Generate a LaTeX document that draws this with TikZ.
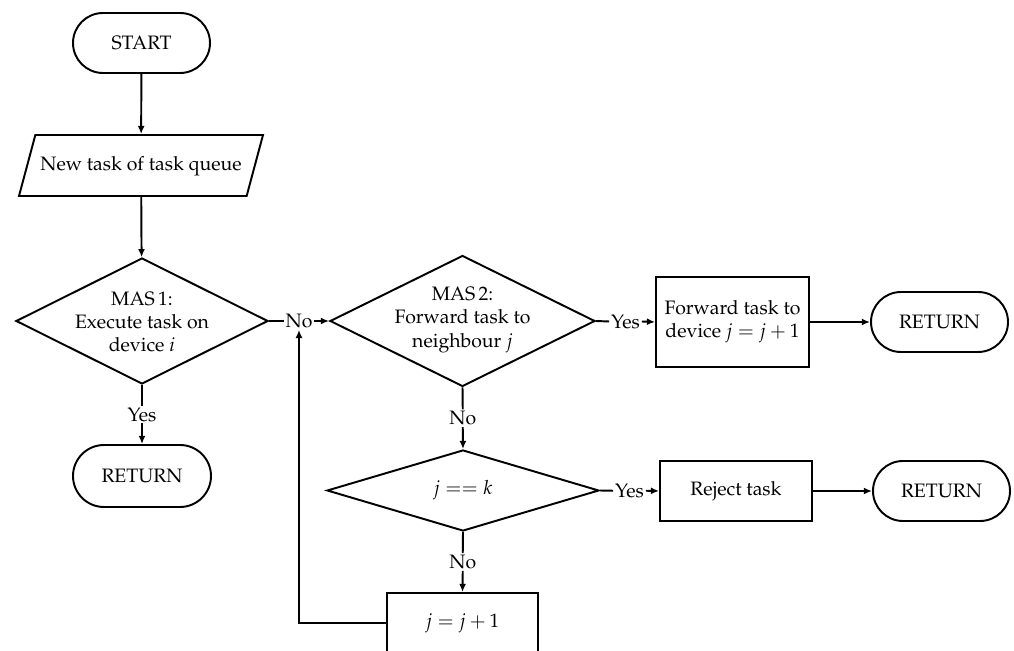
\documentclass[tikz,border=0pt]{standalone}
\usepackage[T1]{fontenc}
\usepackage{mathpazo}
\usetikzlibrary{shapes.geometric,shapes.misc,arrows.meta}

\newcommand{\pu}{0.5147pt}

\tikzset{
  base/.style={draw, line width=1pt, inner sep=0pt, align=center},
  term/.style={base, rounded rectangle, minimum width={137*\pu}, minimum height={60*\pu}},
  io/.style={base, trapezium, trapezium left angle=75, trapezium right angle=105,
    trapezium stretches body, text height=7.5pt, text depth=2.5pt, inner ysep=10.7pt,
    minimum width={244*\pu}, minimum height={61*\pu}},
  decide/.style={base, diamond},
  proc/.style={base, rectangle},
  lab/.style={inner sep=0.8pt, font=\normalsize},
  conn/.style={line width=1pt},
  arr/.style={conn, -{Latex[length=4.2pt,width=3.6pt]}},
}

\begin{document}
\begin{tikzpicture}[x=0.5147pt, y=-0.5147pt]
  \useasboundingbox (0,0) rectangle (1014,651);

  % left column
  \node[term] (start) at (141.5,43) {START};
  \node[io] (queue) at (141,165.5) {New task of task queue};
  \node[decide, minimum width={252*\pu}, minimum height={126*\pu}] (d1) at (142,321) {};
  \node (d1t) at (142,322) [align=center] {MAS\,1:\\Execute task on\\device $i$};
  \node[term, minimum width={138*\pu}, minimum height={62*\pu}] (ret1) at (142,476) {RETURN};

  % middle column
  \node[decide, minimum width={265*\pu}, minimum height={131*\pu}] (d2) at (462.5,321) {};
  \node (d2t) at (462.5,320) [align=center] {MAS\,2:\\Forward task to\\neighbour $j$};
  \node[decide, minimum width={272*\pu}, minimum height={81*\pu}] (d3) at (463,490.5) {};
  \node (d3t) at (463,490.5) {$j == k$};
  \node[proc, minimum width={151*\pu}, minimum height={60*\pu}] (inc) at (462.5,623) {$j = j + 1$};

  % right columns
  \node[proc, minimum width={153*\pu}, minimum height={90*\pu}] (fwd) at (732.5,322)
    {Forward task to\\device $j = j + 1$};
  \node[term] (ret2) at (939.5,322) {RETURN};
  \node[proc, minimum width={152*\pu}, minimum height={60*\pu}] (rej) at (736,491) {Reject task};
  \node[term] (ret3) at (941.5,491) {RETURN};

  % branch labels
  \path (d1.east) -- node[lab] (no1) {No} (d2.west);
  \path (d1.south) -- node[lab] (yes1) {Yes} (ret1.north);
  \path (d2.east) -- node[lab] (yes2) {Yes} (fwd.west);
  \path (d2.south) -- node[lab] (no2) {No} (d3.north);
  \path (d3.east) -- node[lab] (yes3) {Yes} (rej.west);
  \path (d3.south) -- node[lab] (no3) {No} (inc.north);

  % connectors
  \draw[arr] (start) -- (queue);
  \draw[arr] (queue) -- (d1);
  \draw[conn] (d1.south) -- (yes1.north);
  \draw[arr] (yes1.south) -- (ret1.north);
  \draw[conn] (d1.east) -- (no1.west);
  \draw[arr] (no1.east) -- (d2.west);
  \draw[conn] (d2.east) -- (yes2.west);
  \draw[arr] (yes2.east) -- (fwd.west);
  \draw[arr] (fwd.east) -- (ret2.west);
  \draw[conn] (d2.south) -- (no2.north);
  \draw[arr] (no2.south) -- (d3.north);
  \draw[conn] (d3.east) -- (yes3.west);
  \draw[arr] (yes3.east) -- (rej.west);
  \draw[arr] (rej.east) -- (ret3.west);
  \draw[conn] (d3.south) -- (no3.north);
  \draw[arr] (no3.south) -- (inc.north);
  \draw[arr] (inc.west) -| (no1.south);
\end{tikzpicture}
\end{document}
